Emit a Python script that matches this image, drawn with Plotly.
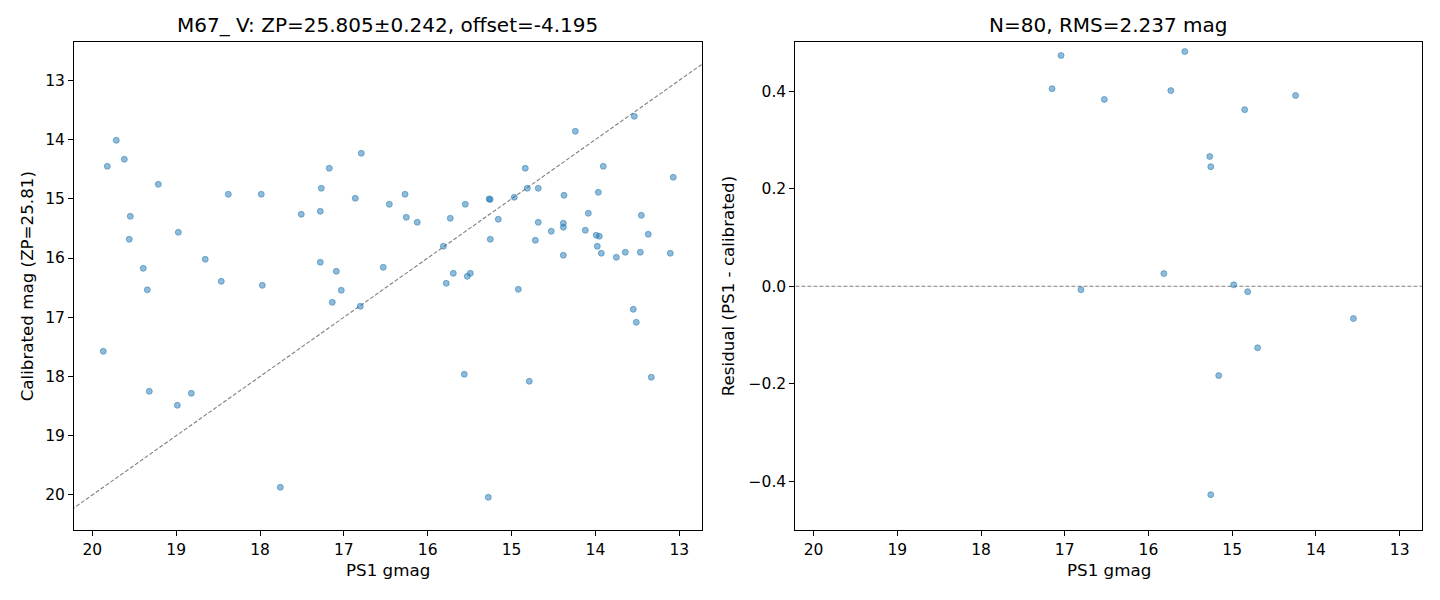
import plotly.graph_objects as go

# ---------------- data ----------------
ps1_gmag = [
    19.714, 19.618, 19.821, 19.213, 18.378, 17.985, 16.792, 17.174, 17.269, 16.864,
    16.458, 17.508, 17.281, 19.547, 19.559, 18.974, 18.653, 19.392, 17.281, 17.090,
    16.530, 18.462, 17.973, 19.344, 17.031, 17.138, 16.804, 19.869, 19.320, 18.986,
    18.819, 17.758, 16.271, 16.256, 16.125, 14.240, 13.537, 14.837, 13.907, 13.072,
    14.813, 14.682, 14.375, 13.966, 15.268, 15.256, 14.968, 15.552, 15.731, 15.159,
    14.085, 13.453, 14.682, 14.383, 14.383, 14.527, 14.121, 13.990, 13.954, 13.370,
    15.254, 14.717, 13.978, 13.930, 14.383, 13.751, 13.644, 13.465, 13.108, 15.814,
    15.695, 15.528, 15.492, 15.779, 14.920, 13.549, 13.513, 15.564, 14.789, 13.334,
    15.278,
]
calibrated_mag = [
    14.013, 14.334, 14.452, 14.756, 14.924, 14.924, 14.232, 14.485, 14.823, 14.992,
    15.093, 15.262, 15.211, 15.296, 15.684, 15.566, 16.022, 16.174, 16.072, 16.224,
    16.157, 16.393, 16.461, 16.537, 16.545, 16.748, 16.815, 17.575, 18.250, 18.486,
    18.284, 19.870, 14.924, 15.313, 15.397, 13.861, 13.608, 14.485, 14.452, 14.637,
    14.823, 14.823, 14.941, 14.891, 15.002, 15.011, 14.975, 15.093, 15.330, 15.346,
    15.245, 15.279, 15.397, 15.414, 15.481, 15.549, 15.532, 15.616, 15.633, 15.600,
    15.684, 15.701, 15.802, 15.920, 15.954, 15.988, 15.903, 15.903, 15.920, 15.802,
    16.258, 16.309, 16.258, 16.427, 16.528, 16.866, 17.085, 17.963, 18.081, 18.013,
    20.039,
]

resid_gmag = [17.044, 15.566, 17.151, 16.527, 15.733, 14.243, 14.851, 15.268, 15.256,
              15.816, 16.806, 14.982, 14.815, 13.552, 14.696, 15.161, 15.256]
residual = [0.473, 0.481, 0.405, 0.383, 0.401, 0.391, 0.362, 0.266, 0.245,
            0.026, -0.007, 0.003, -0.011, -0.066, -0.126, -0.183, -0.427]

left_title = "M67_ V: ZP=25.805±0.242, offset=-4.195"
right_title = "N=80, RMS=2.237 mag"
x_label = "PS1 gmag"
y_label_left = "Calibrated mag (ZP=25.81)"
y_label_right = "Residual (PS1 - calibrated)"

x_ticks = [20, 19, 18, 17, 16, 15, 14, 13]
y_ticks_left = [13, 14, 15, 16, 17, 18, 19, 20]
y_ticks_right = [-0.4, -0.2, 0.0, 0.2, 0.4]

# ---------------- layout geometry ----------------
W, H = 1440, 600
X_RANGE = [20.218, 12.733]
Y_RANGE_LEFT = [20.596, 12.359]
Y_RANGE_RIGHT = [-0.5, 0.5]

dom_x1 = [74 / W, 701.7 / W]
dom_x2 = [795.3 / W, 1422 / W]
dom_y = [(H - 530.3) / H, (H - 42.3) / H]

FONT = "DejaVu Sans"
C0 = "rgba(31,119,180,0.5)"
marker = dict(size=6, color=C0, line=dict(color=C0, width=1))
REF_LINE = dict(color="rgba(0,0,0,0.5)", width=1.1, dash="4px,2px")

fig = go.Figure()

# 1:1 reference line
fig.add_trace(go.Scatter(
    x=[X_RANGE[0] + 0.5, X_RANGE[1] - 0.5], y=[X_RANGE[0] + 0.5, X_RANGE[1] - 0.5],
    mode="lines", line=REF_LINE,
    xaxis="x", yaxis="y", showlegend=False, hoverinfo="skip"))
fig.add_trace(go.Scatter(x=ps1_gmag, y=calibrated_mag, mode="markers", marker=marker,
                         xaxis="x", yaxis="y", showlegend=False))

# zero line
fig.add_trace(go.Scatter(
    x=[X_RANGE[0] + 0.5, X_RANGE[1] - 0.5], y=[0, 0],
    mode="lines", line=REF_LINE,
    xaxis="x2", yaxis="y2", showlegend=False, hoverinfo="skip"))
fig.add_trace(go.Scatter(x=resid_gmag, y=residual, mode="markers", marker=marker,
                         xaxis="x2", yaxis="y2", showlegend=False))

axis_common = dict(
    showgrid=False, zeroline=False, showline=True, linecolor="black", linewidth=1,
    mirror=True, ticks="outside", ticklen=5, tickwidth=1, tickcolor="black",
    tickfont=dict(family=FONT, size=15.5, color="black"), autorange=False,
)

fig.update_layout(
    width=W, height=H,
    margin=dict(l=0, r=0, t=0, b=0),
    paper_bgcolor="white", plot_bgcolor="white",
    font=dict(family=FONT, color="black"),
    xaxis=dict(domain=dom_x1, range=X_RANGE, tickvals=x_ticks,
               ticktext=[str(v) for v in x_ticks], anchor="y", **axis_common),
    yaxis=dict(domain=dom_y, range=Y_RANGE_LEFT, tickvals=y_ticks_left,
               ticktext=[str(v) for v in y_ticks_left], anchor="x", **axis_common),
    xaxis2=dict(domain=dom_x2, range=X_RANGE, tickvals=x_ticks,
                ticktext=[str(v) for v in x_ticks], anchor="y2", **axis_common),
    yaxis2=dict(domain=dom_y, range=Y_RANGE_RIGHT, tickvals=y_ticks_right,
                tickformat=".1f", anchor="x2", **axis_common),
)

ann_font = dict(family=FONT, size=16.7, color="black")
title_font = dict(family=FONT, size=20, color="black")
ymid = (dom_y[0] + dom_y[1]) / 2
annotations = [
    dict(text=left_title, x=(dom_x1[0] + dom_x1[1]) / 2, y=(H - 25) / H, font=title_font),
    dict(text=right_title, x=(dom_x2[0] + dom_x2[1]) / 2, y=(H - 25) / H, font=title_font),
    dict(text=x_label, x=(dom_x1[0] + dom_x1[1]) / 2, y=(H - 570) / H, font=ann_font),
    dict(text=x_label, x=(dom_x2[0] + dom_x2[1]) / 2, y=(H - 570) / H, font=ann_font),
    dict(text=y_label_left, x=27 / W, y=ymid, textangle=-90, font=ann_font),
    dict(text=y_label_right, x=728 / W, y=ymid, textangle=-90, font=ann_font),
]
for a in annotations:
    a.update(xref="paper", yref="paper", showarrow=False, xanchor="center", yanchor="middle")
    fig.add_annotation(**a)

fig.write_html("out.html",
               config={"displayModeBar": False},
               post_script="document.body.style.margin='0';document.body.style.overflow='hidden';")
